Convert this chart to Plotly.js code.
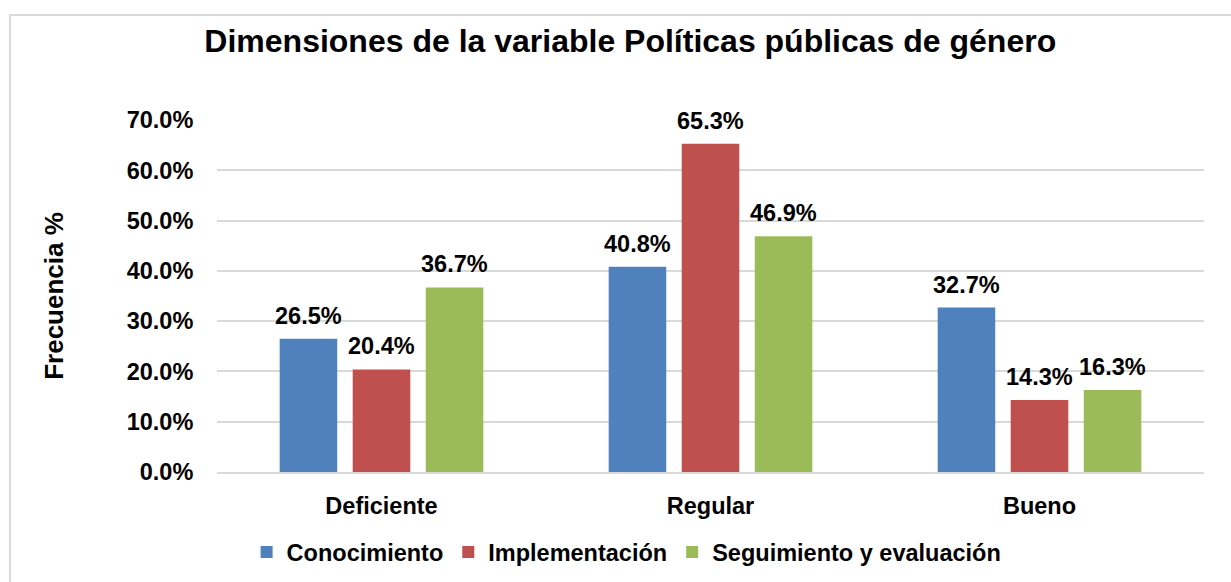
<!DOCTYPE html>
<html>
<head>
<meta charset="utf-8">
<script src="https://cdn.plot.ly/plotly-3.0.1.min.js"></script>
<style>html,body{margin:0;padding:0;background:#fff;}#chart{width:1231px;height:582px;}</style>
</head>
<body>
<div id="chart"></div>
<script>
const categories = ["Deficiente", "Regular", "Bueno"];
const seriesNames = ["Conocimiento", "Implementación", "Seguimiento y evaluación"];
const conocimiento = [26.5, 40.8, 32.7];
const implementacion = [20.4, 65.3, 14.3];
const seguimiento = [36.7, 46.9, 16.3];
const tickValues = [0, 10, 20, 30, 40, 50, 60, 70];
const colors = ["#4F81BD", "#C0504D", "#9BBB59"];

const FONT = "Liberation Sans, Arial, sans-serif";
const FS = 23.5;
const allSeries = [conocimiento, implementacion, seguimiento];
const traces = allSeries.map((vals, i) => ({
  type: "bar",
  name: seriesNames[i],
  x: categories,
  y: vals,
  marker: {color: colors[i]},
  hoverinfo: "none"
}));

// data labels above each bar (offset horizontally to follow the grouped bars)
const BAR_PITCH = 73;
const annotations = [];
allSeries.forEach((vals, i) => {
  vals.forEach((v, j) => {
    annotations.push({
      x: categories[j], y: v, xref: "x", yref: "y",
      text: "<b>" + v.toFixed(1) + "%</b>",
      showarrow: false, xanchor: "center", yanchor: "bottom",
      xshift: (i - 1) * BAR_PITCH, yshift: 8,
      font: {family: FONT, size: FS, color: "#000"}
    });
  });
});

const layout = {
  width: 1231, height: 582,
  margin: {l: 217, r: 27, t: 120, b: 110, autoexpand: false},
  paper_bgcolor: "#fff", plot_bgcolor: "#fff",
  font: {family: FONT, color: "#000"},
  title: {text: "<b>Dimensiones de la variable Políticas públicas de género</b>",
    font: {family: FONT, size: 32, color: "#000"}, x: 0.512, xanchor: "center", y: 0.93, yanchor: "middle"},
  barmode: "group",
  bargap: 0.334,
  bargroupgap: 0.212,
  xaxis: {
    tickfont: {family: FONT, size: FS, color: "#000", weight: "bold"},
    ticks: "outside", ticklen: 12, tickcolor: "rgba(0,0,0,0)",
    showline: true, linecolor: "#d9d9d9", linewidth: 2,
    showgrid: false, zeroline: false
  },
  yaxis: {
    range: [0, 70],
    tickvals: tickValues,
    ticktext: tickValues.map(v => v.toFixed(1) + "%"),
    tickfont: {family: FONT, size: FS, color: "#000", weight: "bold"},
    ticks: "outside", ticklen: 18, tickcolor: "rgba(0,0,0,0)",
    showgrid: true, gridcolor: "#d9d9d9", gridwidth: 2,
    zeroline: false, showline: false,
    title: {text: "<b>Frecuencia %</b>", font: {family: FONT, size: 26, color: "#000"}, standoff: 55}
  },
  legend: {
    orientation: "h", x: 0.415, xanchor: "center", y: -0.228, yanchor: "middle",
    font: {family: FONT, size: FS, color: "#000", weight: "bold"},
    itemwidth: 30, traceorder: "normal"
  },
  annotations: annotations,
  showlegend: true,
  shapes: [{
    type: "rect", xref: "paper", yref: "paper",
    x0: -0.2097, x1: 1.04, y0: -0.4, y1: 1.298,
    line: {color: "#d9d9d9", width: 2}, fillcolor: "rgba(0,0,0,0)", layer: "below"
  }]
};

Plotly.newPlot("chart", traces, layout, {displayModeBar: false, staticPlot: true});
</script>
</body>
</html>
